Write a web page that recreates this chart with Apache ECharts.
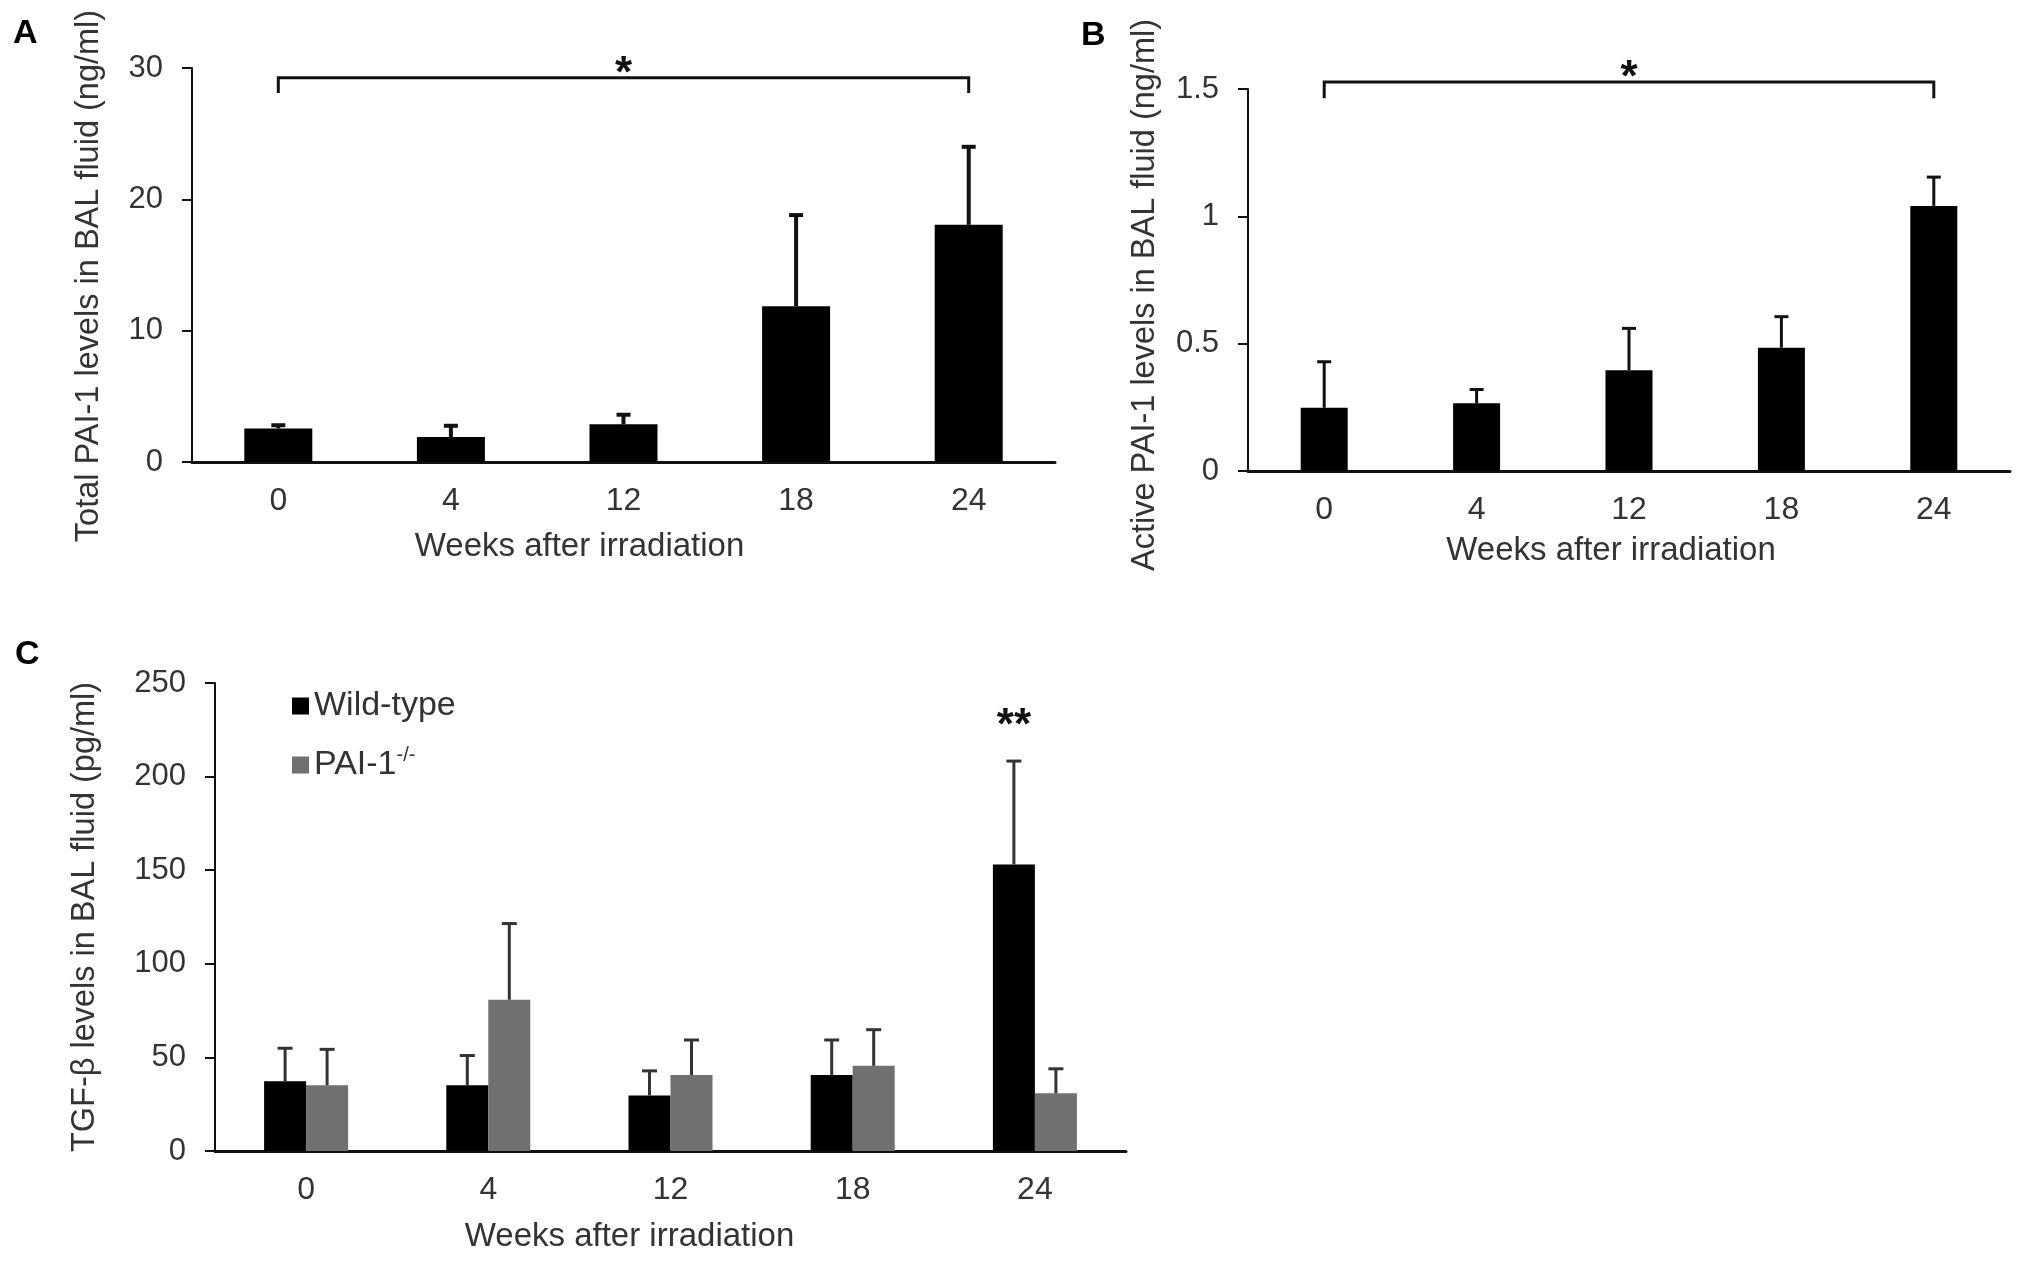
<!DOCTYPE html>
<html>
<head>
<meta charset="utf-8">
<script src="https://cdn.jsdelivr.net/npm/echarts@6/dist/echarts.min.js"></script>
<style>
  html, body { margin: 0; padding: 0; background: #ffffff; }
  #chart { width: 2031px; height: 1265px; }
</style>
</head>
<body>
<div id="chart"></div>
<script>
// ---------------- data ----------------
const weeks = ['0', '4', '12', '18', '24'];

// Panel A: total PAI-1 (ng/ml)
const totalPAI1 = [2.56, 1.9, 2.87, 11.86, 18.06];
const totalPAI1Err = [0.24, 0.86, 0.73, 6.94, 5.94];

// Panel B: active PAI-1 (ng/ml)
const activePAI1 = [0.248, 0.266, 0.396, 0.484, 1.041];
const activePAI1Err = [0.181, 0.054, 0.164, 0.122, 0.113];

// Panel C: TGF-beta (pg/ml)
const tgfWildType = [37.3, 35.1, 29.7, 40.6, 153.0];
const tgfWildTypeErr = [17.6, 15.9, 13.1, 18.7, 55.3];
const tgfKnockout = [35.1, 80.8, 40.6, 45.5, 30.8];
const tgfKnockoutErr = [19.2, 40.7, 18.7, 19.3, 13.1];

// Significance annotations: [fromCategory, toCategory, lowValue, highValue]
const bracketA = [[-0.075, 4.01, 28.1, 29.25]];
const bracketB = [[-0.04, 3.97, 1.464, 1.527]];
// [category, value]
const starC = [[4, 232]];

// Tick labels / axis ranges
const yTicksA = { min: 0, max: 30, interval: 10 };
const yTicksB = { min: 0, max: 1.5, interval: 0.5 };
const yTicksC = { min: 0, max: 250, interval: 50 };

const seriesNames = ['Wild-type', 'PAI-1-/-'];

// ---------------- style ----------------
const FONT = "'Liberation Sans', Arial, Helvetica, sans-serif";
const TEXT = '#333333';
const AXIS = '#111111';
const GREY = '#707070';
const C_BAR_W = 42;

function xAxisCfg(gridIndex, nameGap, namePad) {
  return {
    type: 'category', gridIndex, data: weeks,
    axisLine: { lineStyle: { color: AXIS, width: 3 } },
    axisTick: { show: false },
    axisLabel: { color: TEXT, fontSize: 32, fontFamily: FONT, margin: 23 },
    name: 'Weeks after irradiation', nameLocation: 'middle', nameGap,
    nameTextStyle: { color: TEXT, fontSize: 33, fontFamily: FONT, padding: namePad }
  };
}
function yAxisCfg(gridIndex, ticks, name, nameGap, namePad) {
  return {
    type: 'value', gridIndex, min: ticks.min, max: ticks.max, interval: ticks.interval,
    axisLine: { show: true, lineStyle: { color: AXIS, width: 2 } },
    axisTick: { show: true, inside: false, length: 10, lineStyle: { color: AXIS, width: 2 } },
    splitLine: { show: false },
    axisLabel: { color: TEXT, fontSize: 31, fontFamily: FONT, margin: 29 },
    name, nameLocation: 'middle', nameGap, nameRotate: 90,
    nameTextStyle: { color: TEXT, fontSize: 32.5, fontFamily: FONT, padding: namePad }
  };
}

function errorSeries(xi, values, errs, offsetPx, st) {
  return {
    type: 'custom', xAxisIndex: xi, yAxisIndex: xi, z: 5, silent: true,
    data: values.map((v, i) => [i, v, v + errs[i]]),
    encode: { x: 0, y: [1, 2] },
    renderItem: function (params, api) {
      const b = api.coord([api.value(0), api.value(1)]);
      const t = api.coord([api.value(0), api.value(2)]);
      const x = b[0] + offsetPx;
      return {
        type: 'group', children: [
          { type: 'line', shape: { x1: x, y1: b[1], x2: x, y2: t[1] },
            style: { stroke: st.color, lineWidth: st.stem } },
          { type: 'line', shape: { x1: x - st.cap / 2, y1: t[1], x2: x + st.cap / 2, y2: t[1] },
            style: { stroke: st.color, lineWidth: st.capW } }
        ]
      };
    }
  };
}

function bracketSeries(xi, brackets, mark) {
  return {
    type: 'custom', xAxisIndex: xi, yAxisIndex: xi, z: 6, silent: true,
    data: brackets,
    encode: { x: [0, 1], y: [2, 3] },
    renderItem: function (params, api) {
      const p1 = api.coord([api.value(0), api.value(2)]);
      const p2 = api.coord([api.value(0), api.value(3)]);
      const p3 = api.coord([api.value(1), api.value(3)]);
      const p4 = api.coord([api.value(1), api.value(2)]);
      return {
        type: 'group', children: [
          { type: 'polyline', shape: { points: [p1, p2, p3, p4] },
            style: { stroke: AXIS, lineWidth: 3, fill: null } },
          { type: 'text', x: (p2[0] + p3[0]) / 2, y: p2[1] - 3,
            style: { text: mark, font: 'bold 44px ' + FONT, fill: '#111', align: 'center', verticalAlign: 'middle' } }
        ]
      };
    }
  };
}

function starSeries(xi, stars, mark, offsetPx) {
  return {
    type: 'custom', xAxisIndex: xi, yAxisIndex: xi, z: 6, silent: true,
    data: stars,
    encode: { x: 0, y: 1 },
    renderItem: function (params, api) {
      const p = api.coord([api.value(0), api.value(1)]);
      return { type: 'text', x: p[0] + offsetPx, y: p[1] + 10,
        style: { text: mark, font: 'bold 44px ' + FONT, fill: '#111', align: 'center', verticalAlign: 'middle' } };
    }
  };
}

const chart = echarts.init(document.getElementById('chart'), null, { renderer: 'canvas' });

const option = {
  animation: false,
  backgroundColor: '#ffffff',
  textStyle: { fontFamily: FONT },
  grid: [
    { left: 192, top: 68, width: 863, height: 394 },
    { left: 1248, top: 89, width: 762, height: 382 },
    { left: 215, top: 683, width: 911, height: 468 }
  ],
  xAxis: [
    xAxisCfg(0, 68, [0, 88, 0, 0]),
    xAxisCfg(1, 63, [0, 36, 0, 0]),
    xAxisCfg(2, 69, [0, 82, 0, 0])
  ],
  yAxis: [
    yAxisCfg(0, yTicksA, 'Total PAI-1 levels in BAL fluid (ng/ml)', 86, [0, 22, 0, 0]),
    yAxisCfg(1, yTicksB, 'Active PAI-1 levels in BAL fluid (ng/ml)', 86, [0, 30, 0, 0]),
    yAxisCfg(2, yTicksC, 'TGF-\u03b2 levels in BAL fluid (pg/ml)', 113, [0, 0, 0, 0])
  ],
  legend: {
    data: seriesNames,
    orient: 'vertical', left: 287, top: 681,
    itemWidth: 17, itemHeight: 17, itemGap: 19, icon: 'rect',
    formatter: function (name) { return name === 'PAI-1-/-' ? 'PAI-1{sup|-/-}' : name; },
    textStyle: {
      color: TEXT, fontSize: 34, fontFamily: FONT, lineHeight: 40,
      rich: { sup: { fontSize: 20, fontFamily: FONT, color: TEXT, verticalAlign: 'top', lineHeight: 40, padding: [0, 0, 14, 0] } }
    }
  },
  graphic: [
    { type: 'text', x: 13, y: 34, style: { text: 'A', font: 'bold 34px ' + FONT, fill: '#000', verticalAlign: 'middle' } },
    { type: 'text', x: 1081, y: 36, style: { text: 'B', font: 'bold 34px ' + FONT, fill: '#000', verticalAlign: 'middle' } },
    { type: 'text', x: 15, y: 655, style: { text: 'C', font: 'bold 34px ' + FONT, fill: '#000', verticalAlign: 'middle' } }
  ],
  series: [
    { type: 'bar', name: 'Total PAI-1', xAxisIndex: 0, yAxisIndex: 0, data: totalPAI1,
      barWidth: 68, itemStyle: { color: '#000' } },
    errorSeries(0, totalPAI1, totalPAI1Err, 0, { color: '#111', stem: 4, cap: 14, capW: 4 }),
    bracketSeries(0, bracketA, '*'),

    { type: 'bar', name: 'Active PAI-1', xAxisIndex: 1, yAxisIndex: 1, data: activePAI1,
      barWidth: 47, itemStyle: { color: '#000' } },
    errorSeries(1, activePAI1, activePAI1Err, 0, { color: '#111', stem: 3, cap: 14, capW: 3 }),
    bracketSeries(1, bracketB, '*'),

    { type: 'bar', name: seriesNames[0], xAxisIndex: 2, yAxisIndex: 2, data: tgfWildType,
      barWidth: C_BAR_W, barGap: '0%', itemStyle: { color: '#000' } },
    { type: 'bar', name: seriesNames[1], xAxisIndex: 2, yAxisIndex: 2, data: tgfKnockout,
      barWidth: C_BAR_W, barGap: '0%', itemStyle: { color: GREY } },
    errorSeries(2, tgfWildType, tgfWildTypeErr, -C_BAR_W / 2, { color: '#333', stem: 3, cap: 15, capW: 3 }),
    errorSeries(2, tgfKnockout, tgfKnockoutErr, C_BAR_W / 2, { color: '#333', stem: 3, cap: 15, capW: 3 }),
    starSeries(2, starC, '**', -C_BAR_W / 2)
  ]
};

chart.setOption(option);
</script>
</body>
</html>
